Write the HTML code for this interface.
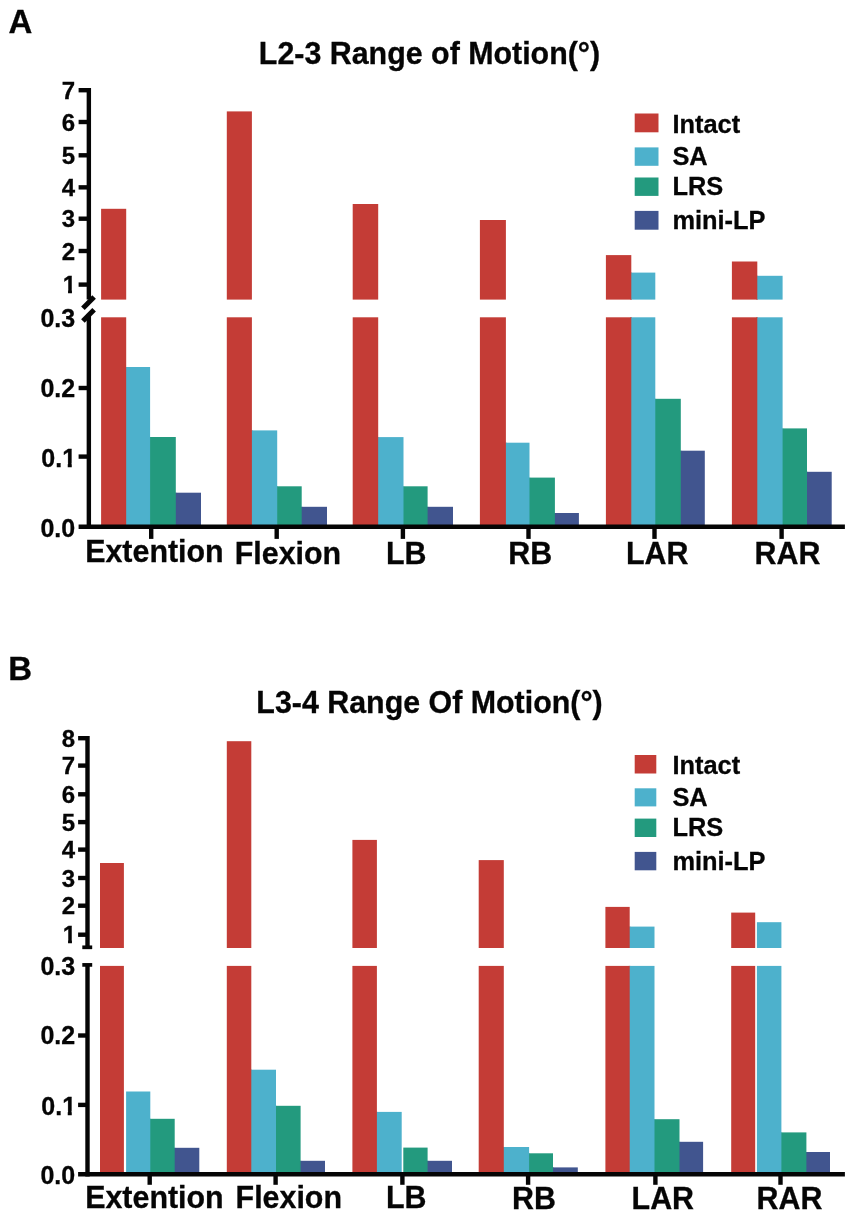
<!DOCTYPE html>
<html lang="en"><head><meta charset="utf-8"><title>Range of Motion</title>
<style>html,body{margin:0;padding:0;background:#fff}body{width:851px;height:1215px;overflow:hidden}svg{display:block}text{font-family:"Liberation Sans",sans-serif;font-weight:bold;fill:#050505;stroke:#050505;stroke-width:0.3px}</style>
</head><body>
<svg width="851" height="1215" viewBox="0 0 851 1215">
<rect x="0" y="0" width="851" height="1215" fill="#ffffff"/>
<rect x="101.10" y="317.30" width="25.10" height="209.50" fill="#C43C36"/>
<rect x="101.10" y="208.80" width="25.10" height="90.80" fill="#C43C36"/>
<rect x="125.20" y="367.00" width="1.70" height="159.80" fill="#C43C36"/>
<rect x="126.20" y="367.00" width="23.90" height="159.80" fill="#4DB1CC"/>
<rect x="149.10" y="437.00" width="1.70" height="89.80" fill="#4DB1CC"/>
<rect x="150.10" y="437.00" width="25.70" height="89.80" fill="#239A7E"/>
<rect x="174.80" y="492.70" width="1.70" height="34.10" fill="#239A7E"/>
<rect x="175.80" y="492.70" width="25.20" height="34.10" fill="#41558F"/>
<rect x="226.80" y="317.30" width="25.10" height="209.50" fill="#C43C36"/>
<rect x="226.80" y="111.40" width="25.10" height="188.20" fill="#C43C36"/>
<rect x="250.90" y="430.40" width="1.70" height="96.40" fill="#C43C36"/>
<rect x="251.90" y="430.40" width="25.30" height="96.40" fill="#4DB1CC"/>
<rect x="276.20" y="486.30" width="1.70" height="40.50" fill="#4DB1CC"/>
<rect x="277.20" y="486.30" width="24.50" height="40.50" fill="#239A7E"/>
<rect x="300.70" y="506.80" width="1.70" height="20.00" fill="#239A7E"/>
<rect x="301.70" y="506.80" width="25.30" height="20.00" fill="#41558F"/>
<rect x="352.70" y="317.30" width="25.50" height="209.50" fill="#C43C36"/>
<rect x="352.70" y="204.00" width="25.50" height="95.60" fill="#C43C36"/>
<rect x="377.20" y="437.10" width="1.70" height="89.70" fill="#C43C36"/>
<rect x="378.20" y="437.10" width="25.30" height="89.70" fill="#4DB1CC"/>
<rect x="402.50" y="486.30" width="1.70" height="40.50" fill="#4DB1CC"/>
<rect x="403.50" y="486.30" width="24.10" height="40.50" fill="#239A7E"/>
<rect x="426.60" y="506.80" width="1.70" height="20.00" fill="#239A7E"/>
<rect x="427.60" y="506.80" width="25.40" height="20.00" fill="#41558F"/>
<rect x="479.90" y="317.30" width="26.00" height="209.50" fill="#C43C36"/>
<rect x="479.90" y="220.00" width="26.00" height="79.60" fill="#C43C36"/>
<rect x="504.90" y="442.70" width="1.70" height="84.10" fill="#C43C36"/>
<rect x="505.90" y="442.70" width="23.60" height="84.10" fill="#4DB1CC"/>
<rect x="528.50" y="477.60" width="1.70" height="49.20" fill="#4DB1CC"/>
<rect x="529.50" y="477.60" width="25.40" height="49.20" fill="#239A7E"/>
<rect x="553.90" y="513.00" width="1.70" height="13.80" fill="#239A7E"/>
<rect x="554.90" y="513.00" width="24.00" height="13.80" fill="#41558F"/>
<rect x="605.90" y="317.30" width="25.40" height="209.50" fill="#C43C36"/>
<rect x="605.90" y="255.10" width="25.40" height="44.50" fill="#C43C36"/>
<rect x="630.30" y="317.30" width="1.70" height="209.50" fill="#C43C36"/>
<rect x="630.30" y="272.60" width="1.70" height="27.00" fill="#C43C36"/>
<rect x="631.30" y="317.30" width="24.00" height="209.50" fill="#4DB1CC"/>
<rect x="631.30" y="272.60" width="24.00" height="27.00" fill="#4DB1CC"/>
<rect x="654.30" y="398.80" width="1.70" height="128.00" fill="#4DB1CC"/>
<rect x="655.30" y="398.80" width="25.50" height="128.00" fill="#239A7E"/>
<rect x="679.80" y="450.70" width="1.70" height="76.10" fill="#239A7E"/>
<rect x="680.80" y="450.70" width="24.00" height="76.10" fill="#41558F"/>
<rect x="731.90" y="317.30" width="25.40" height="209.50" fill="#C43C36"/>
<rect x="731.90" y="261.50" width="25.40" height="38.10" fill="#C43C36"/>
<rect x="756.30" y="317.30" width="1.70" height="209.50" fill="#C43C36"/>
<rect x="756.30" y="275.80" width="1.70" height="23.80" fill="#C43C36"/>
<rect x="757.30" y="317.30" width="25.30" height="209.50" fill="#4DB1CC"/>
<rect x="757.30" y="275.80" width="25.30" height="23.80" fill="#4DB1CC"/>
<rect x="781.60" y="428.40" width="1.70" height="98.40" fill="#4DB1CC"/>
<rect x="782.60" y="428.40" width="24.40" height="98.40" fill="#239A7E"/>
<rect x="806.00" y="471.80" width="1.70" height="55.00" fill="#239A7E"/>
<rect x="807.00" y="471.80" width="24.70" height="55.00" fill="#41558F"/>
<line x1="88.85" y1="88.00" x2="88.85" y2="299.50" stroke="#050505" stroke-width="4.40" stroke-linecap="butt"/>
<line x1="88.85" y1="316.00" x2="88.85" y2="529.00" stroke="#050505" stroke-width="4.40" stroke-linecap="butt"/>
<line x1="78.60" y1="90.20" x2="88.85" y2="90.20" stroke="#050505" stroke-width="4.40" stroke-linecap="butt"/>
<text transform="translate(75.20 98.80) scale(1 1.035)" font-size="24.00" text-anchor="end">7</text>
<line x1="78.60" y1="122.00" x2="88.85" y2="122.00" stroke="#050505" stroke-width="4.40" stroke-linecap="butt"/>
<text transform="translate(75.20 130.60) scale(1 1.035)" font-size="24.00" text-anchor="end">6</text>
<line x1="78.60" y1="155.30" x2="88.85" y2="155.30" stroke="#050505" stroke-width="4.40" stroke-linecap="butt"/>
<text transform="translate(75.20 163.90) scale(1 1.035)" font-size="24.00" text-anchor="end">5</text>
<line x1="78.60" y1="187.35" x2="88.85" y2="187.35" stroke="#050505" stroke-width="4.40" stroke-linecap="butt"/>
<text transform="translate(75.20 195.95) scale(1 1.035)" font-size="24.00" text-anchor="end">4</text>
<line x1="78.60" y1="218.70" x2="88.85" y2="218.70" stroke="#050505" stroke-width="4.40" stroke-linecap="butt"/>
<text transform="translate(75.20 227.30) scale(1 1.035)" font-size="24.00" text-anchor="end">3</text>
<line x1="78.60" y1="251.00" x2="88.85" y2="251.00" stroke="#050505" stroke-width="4.40" stroke-linecap="butt"/>
<text transform="translate(75.20 259.60) scale(1 1.035)" font-size="24.00" text-anchor="end">2</text>
<line x1="78.60" y1="284.60" x2="88.85" y2="284.60" stroke="#050505" stroke-width="4.40" stroke-linecap="butt"/>
<text transform="translate(76.10 293.20) scale(1 1.035)" font-size="24.00" text-anchor="end">1</text>
<rect x="63.26" y="289.37" width="4.79" height="5.43" fill="#ffffff"/>
<rect x="71.95" y="289.37" width="4.49" height="5.43" fill="#ffffff"/>
<text transform="translate(75.20 327.00) scale(1 1.035)" font-size="25.00" text-anchor="end">0.3</text>
<line x1="78.60" y1="388.00" x2="88.85" y2="388.00" stroke="#050505" stroke-width="4.40" stroke-linecap="butt"/>
<text transform="translate(75.20 396.90) scale(1 1.035)" font-size="25.00" text-anchor="end">0.2</text>
<line x1="78.60" y1="456.60" x2="88.85" y2="456.60" stroke="#050505" stroke-width="4.40" stroke-linecap="butt"/>
<text transform="translate(76.10 467.10) scale(1 1.035)" font-size="25.00" text-anchor="end">0.1</text>
<rect x="62.77" y="463.16" width="4.96" height="5.54" fill="#ffffff"/>
<rect x="71.76" y="463.16" width="4.64" height="5.54" fill="#ffffff"/>
<text transform="translate(75.20 537.20) scale(1 1.035)" font-size="25.00" text-anchor="end">0.0</text>
<line x1="78.60" y1="526.80" x2="844.90" y2="526.80" stroke="#050505" stroke-width="4.40" stroke-linecap="butt"/>
<line x1="151.20" y1="526.80" x2="151.20" y2="538.90" stroke="#050505" stroke-width="4.40" stroke-linecap="butt"/>
<line x1="276.70" y1="526.80" x2="276.70" y2="538.90" stroke="#050505" stroke-width="4.40" stroke-linecap="butt"/>
<line x1="402.90" y1="526.80" x2="402.90" y2="538.90" stroke="#050505" stroke-width="4.40" stroke-linecap="butt"/>
<line x1="528.50" y1="526.80" x2="528.50" y2="538.90" stroke="#050505" stroke-width="4.40" stroke-linecap="butt"/>
<line x1="654.50" y1="526.80" x2="654.50" y2="538.90" stroke="#050505" stroke-width="4.40" stroke-linecap="butt"/>
<line x1="781.60" y1="526.80" x2="781.60" y2="538.90" stroke="#050505" stroke-width="4.40" stroke-linecap="butt"/>
<text transform="translate(85.20 561.90) scale(1 1.020)" font-size="30.40" text-anchor="start">Extention</text>
<text transform="translate(234.80 563.70) scale(1 1.020)" font-size="30.40" text-anchor="start">Flexion</text>
<text transform="translate(386.00 564.10) scale(1 1.035)" font-size="30.40" text-anchor="start">LB</text>
<text transform="translate(508.30 564.00) scale(1 1.035)" font-size="30.40" text-anchor="start">RB</text>
<text transform="translate(626.00 564.00) scale(1 1.035)" font-size="30.40" text-anchor="start">LAR</text>
<text transform="translate(754.50 564.00) scale(1 1.035)" font-size="30.40" text-anchor="start">RAR</text>
<line x1="82.90" y1="308.30" x2="94.10" y2="296.90" stroke="#050505" stroke-width="5.00" stroke-linecap="butt"/>
<line x1="82.90" y1="321.10" x2="94.10" y2="309.70" stroke="#050505" stroke-width="5.00" stroke-linecap="butt"/>
<text transform="translate(429.50 63.50) scale(1 1.020)" font-size="30.40" text-anchor="middle">L2-3 Range of Motion(°)</text>
<text transform="translate(8.50 33.40) scale(1 1.035)" font-size="33.00" text-anchor="start">A</text>
<rect x="634.70" y="113.50" width="23.80" height="18.80" fill="#C43C36"/>
<text transform="translate(672.40 132.90) scale(1 1.020)" font-size="25.40" text-anchor="start">Intact</text>
<rect x="634.70" y="147.40" width="23.80" height="18.40" fill="#4DB1CC"/>
<text transform="translate(672.40 165.40) scale(1 1.035)" font-size="25.40" text-anchor="start">SA</text>
<rect x="634.70" y="177.50" width="23.80" height="18.40" fill="#239A7E"/>
<text transform="translate(672.40 194.90) scale(1 1.035)" font-size="25.40" text-anchor="start">LRS</text>
<rect x="634.70" y="210.90" width="23.80" height="18.80" fill="#41558F"/>
<text transform="translate(672.40 229.30) scale(1 1.020)" font-size="25.40" text-anchor="start">mini-LP</text>
<rect x="100.00" y="965.90" width="23.90" height="208.30" fill="#C43C36"/>
<rect x="100.00" y="863.00" width="23.90" height="85.00" fill="#C43C36"/>
<rect x="126.10" y="1091.50" width="24.20" height="82.70" fill="#4DB1CC"/>
<rect x="149.30" y="1118.80" width="1.70" height="55.40" fill="#4DB1CC"/>
<rect x="150.30" y="1118.80" width="24.40" height="55.40" fill="#239A7E"/>
<rect x="173.70" y="1147.80" width="1.70" height="26.40" fill="#239A7E"/>
<rect x="174.70" y="1147.80" width="24.60" height="26.40" fill="#41558F"/>
<rect x="226.80" y="965.90" width="24.50" height="208.30" fill="#C43C36"/>
<rect x="226.80" y="741.20" width="24.50" height="206.80" fill="#C43C36"/>
<rect x="250.30" y="1069.70" width="1.70" height="104.50" fill="#C43C36"/>
<rect x="251.30" y="1069.70" width="24.70" height="104.50" fill="#4DB1CC"/>
<rect x="275.00" y="1105.80" width="1.70" height="68.40" fill="#4DB1CC"/>
<rect x="276.00" y="1105.80" width="24.60" height="68.40" fill="#239A7E"/>
<rect x="299.60" y="1160.80" width="1.70" height="13.40" fill="#239A7E"/>
<rect x="300.60" y="1160.80" width="24.40" height="13.40" fill="#41558F"/>
<rect x="352.40" y="965.90" width="24.50" height="208.30" fill="#C43C36"/>
<rect x="352.40" y="839.90" width="24.50" height="108.10" fill="#C43C36"/>
<rect x="375.90" y="1111.90" width="1.70" height="62.30" fill="#C43C36"/>
<rect x="376.90" y="1111.90" width="24.80" height="62.30" fill="#4DB1CC"/>
<rect x="403.30" y="1147.60" width="24.30" height="26.60" fill="#239A7E"/>
<rect x="426.60" y="1160.80" width="1.70" height="13.40" fill="#239A7E"/>
<rect x="427.60" y="1160.80" width="24.40" height="13.40" fill="#41558F"/>
<rect x="478.70" y="965.90" width="25.10" height="208.30" fill="#C43C36"/>
<rect x="478.70" y="860.10" width="25.10" height="87.90" fill="#C43C36"/>
<rect x="502.80" y="1147.00" width="1.70" height="27.20" fill="#C43C36"/>
<rect x="503.80" y="1147.00" width="25.30" height="27.20" fill="#4DB1CC"/>
<rect x="528.10" y="1153.30" width="1.70" height="20.90" fill="#4DB1CC"/>
<rect x="529.10" y="1153.30" width="23.90" height="20.90" fill="#239A7E"/>
<rect x="552.00" y="1167.40" width="1.70" height="6.80" fill="#239A7E"/>
<rect x="553.00" y="1167.40" width="24.80" height="6.80" fill="#41558F"/>
<rect x="605.40" y="965.90" width="24.30" height="208.30" fill="#C43C36"/>
<rect x="605.40" y="906.90" width="24.30" height="41.10" fill="#C43C36"/>
<rect x="628.70" y="965.90" width="1.70" height="208.30" fill="#C43C36"/>
<rect x="628.70" y="926.60" width="1.70" height="21.40" fill="#C43C36"/>
<rect x="629.70" y="965.90" width="24.80" height="208.30" fill="#4DB1CC"/>
<rect x="629.70" y="926.60" width="24.80" height="21.40" fill="#4DB1CC"/>
<rect x="653.50" y="1119.20" width="1.70" height="55.00" fill="#4DB1CC"/>
<rect x="654.50" y="1119.20" width="25.00" height="55.00" fill="#239A7E"/>
<rect x="678.50" y="1141.80" width="1.70" height="32.40" fill="#239A7E"/>
<rect x="679.50" y="1141.80" width="23.60" height="32.40" fill="#41558F"/>
<rect x="731.20" y="965.90" width="24.00" height="208.30" fill="#C43C36"/>
<rect x="731.20" y="912.60" width="24.00" height="35.40" fill="#C43C36"/>
<rect x="756.90" y="965.90" width="24.50" height="208.30" fill="#4DB1CC"/>
<rect x="756.90" y="922.20" width="24.50" height="25.80" fill="#4DB1CC"/>
<rect x="780.40" y="1132.40" width="1.70" height="41.80" fill="#4DB1CC"/>
<rect x="781.40" y="1132.40" width="25.00" height="41.80" fill="#239A7E"/>
<rect x="805.40" y="1152.00" width="1.70" height="22.20" fill="#239A7E"/>
<rect x="806.40" y="1152.00" width="23.60" height="22.20" fill="#41558F"/>
<line x1="87.50" y1="736.00" x2="87.50" y2="948.00" stroke="#050505" stroke-width="4.40" stroke-linecap="butt"/>
<line x1="87.50" y1="964.00" x2="87.50" y2="1176.40" stroke="#050505" stroke-width="4.40" stroke-linecap="butt"/>
<line x1="78.10" y1="738.20" x2="87.50" y2="738.20" stroke="#050505" stroke-width="4.40" stroke-linecap="butt"/>
<text transform="translate(75.20 746.80) scale(1 1.035)" font-size="24.00" text-anchor="end">8</text>
<line x1="78.10" y1="765.60" x2="87.50" y2="765.60" stroke="#050505" stroke-width="4.40" stroke-linecap="butt"/>
<text transform="translate(75.20 774.20) scale(1 1.035)" font-size="24.00" text-anchor="end">7</text>
<line x1="78.10" y1="794.30" x2="87.50" y2="794.30" stroke="#050505" stroke-width="4.40" stroke-linecap="butt"/>
<text transform="translate(75.20 802.90) scale(1 1.035)" font-size="24.00" text-anchor="end">6</text>
<line x1="78.10" y1="822.10" x2="87.50" y2="822.10" stroke="#050505" stroke-width="4.40" stroke-linecap="butt"/>
<text transform="translate(75.20 830.70) scale(1 1.035)" font-size="24.00" text-anchor="end">5</text>
<line x1="78.10" y1="849.60" x2="87.50" y2="849.60" stroke="#050505" stroke-width="4.40" stroke-linecap="butt"/>
<text transform="translate(75.20 858.20) scale(1 1.035)" font-size="24.00" text-anchor="end">4</text>
<line x1="78.10" y1="878.00" x2="87.50" y2="878.00" stroke="#050505" stroke-width="4.40" stroke-linecap="butt"/>
<text transform="translate(75.20 886.60) scale(1 1.035)" font-size="24.00" text-anchor="end">3</text>
<line x1="78.10" y1="905.70" x2="87.50" y2="905.70" stroke="#050505" stroke-width="4.40" stroke-linecap="butt"/>
<text transform="translate(75.20 914.30) scale(1 1.035)" font-size="24.00" text-anchor="end">2</text>
<line x1="78.10" y1="934.70" x2="87.50" y2="934.70" stroke="#050505" stroke-width="4.40" stroke-linecap="butt"/>
<text transform="translate(76.10 943.30) scale(1 1.035)" font-size="24.00" text-anchor="end">1</text>
<rect x="63.26" y="939.47" width="4.79" height="5.43" fill="#ffffff"/>
<rect x="71.95" y="939.47" width="4.49" height="5.43" fill="#ffffff"/>
<text transform="translate(75.20 975.30) scale(1 1.035)" font-size="25.00" text-anchor="end">0.3</text>
<line x1="78.10" y1="1035.50" x2="87.50" y2="1035.50" stroke="#050505" stroke-width="4.40" stroke-linecap="butt"/>
<text transform="translate(75.20 1044.20) scale(1 1.035)" font-size="25.00" text-anchor="end">0.2</text>
<line x1="78.10" y1="1104.90" x2="87.50" y2="1104.90" stroke="#050505" stroke-width="4.40" stroke-linecap="butt"/>
<text transform="translate(76.10 1114.90) scale(1 1.035)" font-size="25.00" text-anchor="end">0.1</text>
<rect x="62.77" y="1110.96" width="4.96" height="5.54" fill="#ffffff"/>
<rect x="71.76" y="1110.96" width="4.64" height="5.54" fill="#ffffff"/>
<text transform="translate(75.20 1184.00) scale(1 1.035)" font-size="25.00" text-anchor="end">0.0</text>
<line x1="78.10" y1="1174.20" x2="844.90" y2="1174.20" stroke="#050505" stroke-width="4.40" stroke-linecap="butt"/>
<line x1="149.70" y1="1174.20" x2="149.70" y2="1184.80" stroke="#050505" stroke-width="4.40" stroke-linecap="butt"/>
<line x1="275.60" y1="1174.20" x2="275.60" y2="1184.80" stroke="#050505" stroke-width="4.40" stroke-linecap="butt"/>
<line x1="402.40" y1="1174.20" x2="402.40" y2="1184.80" stroke="#050505" stroke-width="4.40" stroke-linecap="butt"/>
<line x1="528.10" y1="1174.20" x2="528.10" y2="1184.80" stroke="#050505" stroke-width="4.40" stroke-linecap="butt"/>
<line x1="655.40" y1="1174.20" x2="655.40" y2="1184.80" stroke="#050505" stroke-width="4.40" stroke-linecap="butt"/>
<line x1="780.50" y1="1174.20" x2="780.50" y2="1184.80" stroke="#050505" stroke-width="4.40" stroke-linecap="butt"/>
<text transform="translate(85.20 1208.10) scale(1 1.020)" font-size="30.40" text-anchor="start">Extention</text>
<text transform="translate(235.60 1208.10) scale(1 1.020)" font-size="30.40" text-anchor="start">Flexion</text>
<text transform="translate(386.00 1208.40) scale(1 1.035)" font-size="30.40" text-anchor="start">LB</text>
<text transform="translate(512.10 1208.50) scale(1 1.035)" font-size="30.40" text-anchor="start">RB</text>
<text transform="translate(631.60 1208.50) scale(1 1.035)" font-size="30.40" text-anchor="start">LAR</text>
<text transform="translate(756.60 1208.50) scale(1 1.035)" font-size="30.40" text-anchor="start">RAR</text>
<line x1="82.30" y1="947.30" x2="92.20" y2="947.30" stroke="#050505" stroke-width="3.70" stroke-linecap="butt"/>
<line x1="82.30" y1="964.90" x2="92.20" y2="964.90" stroke="#050505" stroke-width="3.70" stroke-linecap="butt"/>
<text transform="translate(429.50 713.20) scale(1 1.020)" font-size="30.40" text-anchor="middle">L3-4 Range Of Motion(°)</text>
<text transform="translate(8.30 679.50) scale(1 1.035)" font-size="33.00" text-anchor="start">B</text>
<rect x="634.70" y="755.00" width="21.60" height="18.50" fill="#C43C36"/>
<text transform="translate(672.40 773.50) scale(1 1.020)" font-size="25.40" text-anchor="start">Intact</text>
<rect x="634.70" y="788.30" width="21.60" height="18.10" fill="#4DB1CC"/>
<text transform="translate(672.40 805.80) scale(1 1.035)" font-size="25.40" text-anchor="start">SA</text>
<rect x="634.70" y="818.60" width="21.60" height="18.40" fill="#239A7E"/>
<text transform="translate(672.40 835.50) scale(1 1.035)" font-size="25.40" text-anchor="start">LRS</text>
<rect x="634.70" y="851.90" width="21.60" height="18.40" fill="#41558F"/>
<text transform="translate(672.40 869.70) scale(1 1.020)" font-size="25.40" text-anchor="start">mini-LP</text>
</svg>
</body></html>
